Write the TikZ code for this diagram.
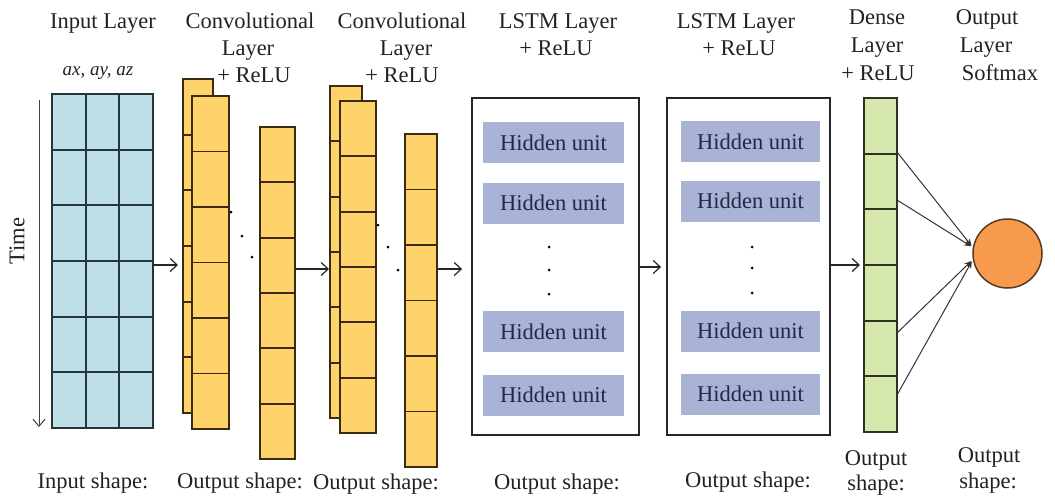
\documentclass[tikz,border=0pt]{standalone}
\usepackage{fontspec}
\setmainfont{Liberation Serif}
\usetikzlibrary{calc,arrows.meta}
\definecolor{cellblue}{HTML}{BEDFE7}
\definecolor{gridblue}{HTML}{26343C}
\definecolor{convyel}{HTML}{FFD36B}
\definecolor{convedge}{HTML}{3A2A10}
\definecolor{hidfill}{HTML}{A9B3D6}
\definecolor{hidtext}{HTML}{1F2A44}
\definecolor{densefill}{HTML}{D7E8AE}
\definecolor{denseedge}{HTML}{2E3320}
\definecolor{outfill}{HTML}{F79A4E}
\definecolor{outedge}{HTML}{5A3A20}
\definecolor{txtcol}{HTML}{222222}
\newcommand{\sixrows}[2]{\foreach \i in {1,...,5} \draw[draw=#2, line width=1.8pt] ($(#1.north west)!\i/6!(#1.south west)$) -- ($(#1.north east)!\i/6!(#1.south east)$);}
\begin{document}
\begin{tikzpicture}[x=1pt,y=-1pt,
  txt/.style={font=\fontsize{22.5}{27}\selectfont, anchor=base, inner sep=0pt, text=txtcol},
  colbox/.style={draw=#1, line width=1.8pt, inner sep=0pt, outer sep=0pt},
  inbox/.style={colbox=gridblue, fill=cellblue, minimum width=101, minimum height=334},
  convbox/.style={colbox=convedge, fill=convyel},
  lstmbox/.style={draw=black!85, line width=1.8pt, fill=white, inner sep=0pt, minimum width=#1, minimum height=337},
  hidbox/.style={fill=hidfill, inner sep=0pt, minimum width=#1, minimum height=41, text=hidtext, font=\fontsize{22.5}{27}\selectfont},
  arr/.style={draw=black!85, line width=1.2pt, -{Straight Barb[length=7pt,width=13pt]}},
  tarr/.style={draw=black!75, line width=1pt, -{Straight Barb[length=7pt,width=12pt]}},
  farr/.style={draw=black!80, line width=1pt, -{Stealth[length=7pt,width=6pt]}},
  dotsty/.style={fill=black}
]
\useasboundingbox (0,0) rectangle (1055,496);

% ---------- titles ----------
\node[txt] (t-in) at (103,28) {Input Layer};
\node[txt, font=\fontsize{19}{23}\selectfont\itshape] (t-axes) at (98,75) {ax, ay, az};
\node[txt] (t-c1a) at (250,28) {Convolutional};
\node[txt] (t-c1b) at (248,55) {Layer};
\node[txt] (t-c1c) at (254,82) {+ ReLU};
\node[txt] (t-c2a) at (402,28) {Convolutional};
\node[txt] (t-c2b) at (406,55) {Layer};
\node[txt] (t-c2c) at (402,82) {+ ReLU};
\node[txt] (t-l1a) at (558,28) {LSTM Layer};
\node[txt] (t-l1b) at (556,55) {+ ReLU};
\node[txt] (t-l2a) at (736,28) {LSTM Layer};
\node[txt] (t-l2b) at (739,55) {+ ReLU};
\node[txt] (t-da) at (877,24) {Dense};
\node[txt] (t-db) at (877,52) {Layer};
\node[txt] (t-dc) at (878,80) {+ ReLU};
\node[txt] (t-oa) at (987,24) {Output};
\node[txt] (t-ob) at (986,52) {Layer};
\node[txt] (t-oc) at (1000,80) {Softmax};

% ---------- bottom labels ----------
\node[txt] (b-in) at (93,488) {Input shape:};
\node[txt] (b-c1) at (240,488) {Output shape:};
\node[txt] (b-c2) at (376,489) {Output shape:};
\node[txt] (b-l1) at (557,489) {Output shape:};
\node[txt] (b-l2) at (748,487) {Output shape:};
\node[txt] (b-da) at (876,465) {Output};
\node[txt] (b-db) at (876,490) {shape:};
\node[txt] (b-oa) at (989,462) {Output};
\node[txt] (b-ob) at (988,488) {shape:};

% ---------- time axis ----------
\coordinate (t0) at (39,100);
\coordinate (t1) at (39,427);
\draw[tarr] (t0) -- (t1);
\node[txt, anchor=center, rotate=90] (time) at (17,241) {Time};

% ---------- input grid ----------
\node[inbox] (input) at (102.5,261) {};
\sixrows{input}{gridblue}
\foreach \i in {1,2} \draw[draw=gridblue, line width=1.8pt] ($(input.north west)!\i/3!(input.north east)$) -- ($(input.south west)!\i/3!(input.south east)$);

% ---------- conv 1 ----------
\node[convbox, minimum width=30, minimum height=334] (conv1b) at (198,246) {};
\sixrows{conv1b}{convedge}
\node[convbox, minimum width=37, minimum height=333] (conv1f) at (210.5,262.5) {};
\sixrows{conv1f}{convedge}
\node[convbox, minimum width=35, minimum height=332] (conv1c) at (277.5,293) {};
\sixrows{conv1c}{convedge}
\fill[dotsty] (231,212) circle (1.5pt) (242,236) circle (1.5pt) (252,257) circle (1.5pt);

% ---------- conv 2 ----------
\node[convbox, minimum width=32, minimum height=332] (conv2b) at (346,252) {};
\sixrows{conv2b}{convedge}
\node[convbox, minimum width=36, minimum height=332] (conv2f) at (358,267) {};
\sixrows{conv2f}{convedge}
\node[convbox, minimum width=32, minimum height=333] (conv2c) at (421,300.5) {};
\sixrows{conv2c}{convedge}
\fill[dotsty] (378,225) circle (1.5pt) (388,247) circle (1.5pt) (398,270) circle (1.5pt);

% ---------- LSTM 1 ----------
\node[lstmbox=167] (lstm1) at (555.5,266.5) {};
\node[hidbox=141] (h11) at (553.5,142.5) {Hidden unit};
\node[hidbox=141] (h12) at (553.5,203) {Hidden unit};
\node[hidbox=141] (h13) at (553.5,331.5) {Hidden unit};
\node[hidbox=141] (h14) at (553.5,395) {Hidden unit};
\fill[dotsty] (549,247) circle (1.5pt) (549,270) circle (1.5pt) (549,294) circle (1.5pt);

% ---------- LSTM 2 ----------
\node[lstmbox=163] (lstm2) at (748.5,266.5) {};
\node[hidbox=139] (h21) at (750.5,141.5) {Hidden unit};
\node[hidbox=139] (h22) at (750.5,201) {Hidden unit};
\node[hidbox=139] (h23) at (750.5,331) {Hidden unit};
\node[hidbox=139] (h24) at (750.5,394) {Hidden unit};
\fill[dotsty] (752,247) circle (1.5pt) (752,268) circle (1.5pt) (752,293) circle (1.5pt);

% ---------- dense ----------
\node[colbox=denseedge, fill=densefill, minimum width=33, minimum height=334] (dense) at (880.5,265) {};
\sixrows{dense}{denseedge}

% ---------- output ----------
\node[circle, draw=outedge, line width=1.5pt, fill=outfill, minimum size=69, inner sep=0pt] (out) at (1007.5,253.5) {};

% ---------- arrows between layers ----------
\coordinate (a1) at (0,265);
\coordinate (a2) at (0,269);
\coordinate (a3) at (0,269);
\coordinate (a4) at (0,267);
\coordinate (a5) at (0,265);
\draw[arr, shorten >=5pt] (input.east |- a1) -- (conv1b.west |- a1);
\draw[arr, shorten >=1pt] (conv1c.east |- a2) -- (conv2b.west |- a2);
\draw[arr, shorten >=9pt] (conv2c.east |- a3) -- (lstm1.west |- a3);
\draw[arr, shorten >=5pt] (lstm1.east |- a4) -- (lstm2.west |- a4);
\draw[arr, shorten >=4pt] (lstm2.east |- a5) -- (dense.west |- a5);

% ---------- dense to output ----------
\coordinate (d1) at (0,152);
\coordinate (d2) at (0,200);
\coordinate (d3) at (0,333);
\coordinate (d4) at (0,395);
\draw[farr, shorten >=2pt] (dense.east |- d1) -- (out.170);
\draw[farr, shorten >=2pt] (dense.east |- d2) -- (out.170);
\draw[farr, shorten >=2pt] (dense.east |- d3) -- (out.190);
\draw[farr, shorten >=2pt] (dense.east |- d4) -- (out.190);
\end{tikzpicture}
\end{document}
